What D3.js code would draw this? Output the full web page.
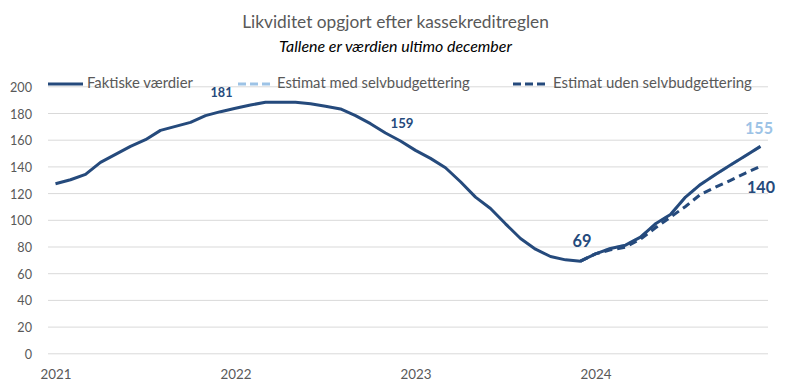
<!DOCTYPE html>
<html><head><meta charset="utf-8">
<script src="https://cdn.jsdelivr.net/npm/d3@7"></script>
<style>body{margin:0;background:#fff}svg{display:block}text{font-family:Lato,"Open Sans",sans-serif}</style>
</head><body><svg id="c" width="791" height="392"></svg>
<script>
const years = ["2021","2022","2023","2024"];
const months = ["jan","feb","mar","apr","maj","jun","jul","aug","sep","okt","nov","dec"];
const categories = years.flatMap(y => months.map(m => y + "-" + m));
const yTicks = [0,20,40,60,80,100,120,140,160,180,200];
const faktiske = [
 127,130,134,143,149,155,160,167,170,173,178,181,
 183.5,186,188,188,188,187,185,183,178,172,165,159,
 152,146,139,128.5,117,108.5,97,86,78,72.5,70,69,
 74.5,78.5,81,87,97,104,117,126.5,134,141,148,155];
const estimatMed = [
 null,null,null,null,null,null,null,null,null,null,null,null,
 null,null,null,null,null,null,null,null,null,null,null,null,
 null,null,null,null,null,null,null,null,null,null,null,69,
 74.5,78.5,81,87,97,104,117,126.5,134,141,148,155];
const estimatUden = [
 null,null,null,null,null,null,null,null,null,null,null,null,
 null,null,null,null,null,null,null,null,null,null,null,null,
 null,null,null,null,null,null,null,null,null,null,null,69,
 74.5,77.5,79.5,85.5,94,102,110,119,124.5,129.5,135,140];
const seriesNames = ["Faktiske værdier","Estimat med selvbudgettering","Estimat uden selvbudgettering"];
const title = "Likviditet opgjort efter kassekreditreglen";
const subtitle = "Tallene er værdien ultimo december";

const dark = "#254a7c", light = "#9dc3e6", grey = "#595959";
const svg = d3.select("#c");
const x = d3.scalePoint().domain(categories).range([48,768]).padding(0.5);
const y = d3.scaleLinear().domain([0,200]).range([353.3,86.3]);

function fit(sel, target){
  const n = sel.node(); const fs = parseFloat(sel.attr("font-size"));
  const w = n.getComputedTextLength();
  sel.attr("font-size", fs*target/w);
  return sel;
}

// grid
const yAxis = d3.axisLeft(y).tickValues(yTicks).tickSize(-720).tickPadding(16);
const gy = svg.append("g").attr("transform","translate(48,0)").call(yAxis);
gy.select(".domain").remove();
gy.selectAll(".tick line").attr("stroke","#d9d9d9").attr("stroke-width",1);
gy.selectAll(".tick text").attr("fill",grey).attr("font-size",14).attr("dy",null).attr("y",5)
  .attr("x",-16);
{ const t = gy.selectAll(".tick text").filter(d=>d===200); const fs0=14; const w=t.node().getComputedTextLength();
  gy.selectAll(".tick text").attr("font-size", fs0*22/w); }

// x axis labels
const xAxis = d3.axisBottom(x).tickValues(years.map(yy=>yy+"-jan")).tickFormat(d=>d.slice(0,4)).tickSize(0).tickPadding(0);
const gx = svg.append("g").attr("transform","translate(0,353.3)").call(xAxis);
gx.select(".domain").remove();
gx.selectAll(".tick text").attr("fill",grey).attr("font-size",14).attr("dy",null).attr("y",25.7);
{ const w = gx.select(".tick text").node().getComputedTextLength(); gx.selectAll(".tick text").attr("font-size",14*31/w); }

// lines
const line = d3.line().defined(d=>d!=null).x((d,i)=>x(categories[i])).y(d=>y(d)).curve(d3.curveLinear);
svg.append("path").datum(estimatMed).attr("d",line).attr("fill","none").attr("stroke",light).attr("stroke-width",3).attr("stroke-dasharray","8,5");
svg.append("path").datum(estimatUden).attr("d",line).attr("fill","none").attr("stroke",dark).attr("stroke-width",3).attr("stroke-dasharray","8,5");
svg.append("path").datum(faktiske).attr("d",line).attr("fill","none").attr("stroke",dark).attr("stroke-width",3).attr("stroke-linejoin","round");

// data labels
function lbl(series, idx, color, fs, target, dx, baseline){
  const t = svg.append("text").attr("x", x(categories[idx])+dx).attr("y", baseline)
   .attr("text-anchor","middle").attr("font-weight","bold").attr("fill",color).attr("font-size",fs)
   .text(Math.round(series[idx]));
  fit(t,target);
}
lbl(faktiske,11,dark,14,22,1,97);
lbl(faktiske,23,dark,14,23,1.5,128);
lbl(faktiske,35,dark,16,19,1.5,246.5);
lbl(estimatMed,47,light,16,28,-1.5,134);
lbl(estimatUden,47,dark,16,28,0.5,193);

// title
fit(svg.append("text").attr("x",395.5).attr("y",27.5).attr("text-anchor","middle").attr("fill",grey).attr("font-size",17).text(title),307);
fit(svg.append("text").attr("x",395.5).attr("y",51.5).attr("text-anchor","middle").attr("fill","#000").attr("font-style","italic").attr("font-size",14).text(subtitle),233);

// legend
const leg = [
 {x0:48,x1:83,tx:87,tw:106,color:dark,dash:null},
 {x0:238,x1:270,tx:277,tw:193,color:light,dash:"8,4"},
 {x0:513,x1:547,tx:553,tw:199,color:dark,dash:"8,4"}];
leg.forEach((l,i)=>{
  svg.append("line").attr("x1",l.x0).attr("x2",l.x1).attr("y1",84).attr("y2",84).attr("stroke",l.color).attr("stroke-width",3).attr("stroke-dasharray",l.dash);
  fit(svg.append("text").attr("x",l.tx).attr("y",88).attr("fill",grey).attr("font-size",14).text(seriesNames[i]),l.tw);
});
</script></body></html>
